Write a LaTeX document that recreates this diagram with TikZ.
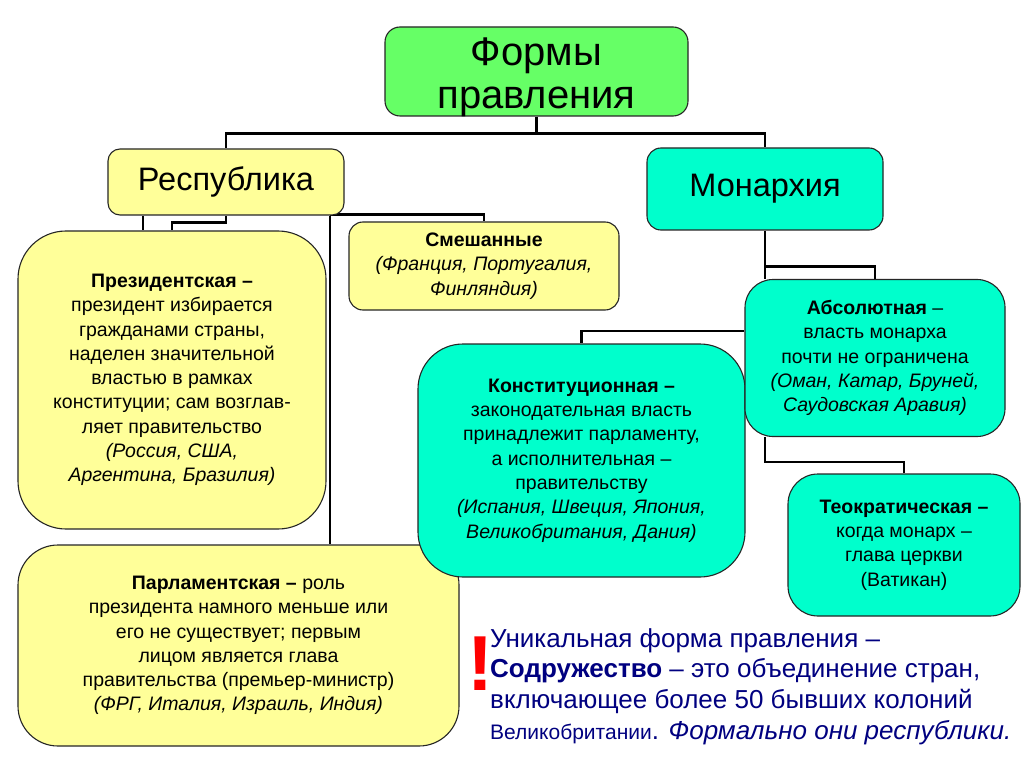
\documentclass[tikz,border=0pt]{standalone}
\usepackage{fontspec}
\setmainfont{Liberation Sans}
\usetikzlibrary{calc}
\definecolor{grn}{HTML}{66FF66}
\definecolor{yel}{HTML}{FFFF99}
\definecolor{aq}{HTML}{00FFCC}
\definecolor{nav}{HTML}{000080}
\pgfdeclarelayer{bg}
\pgfdeclarelayer{paper}
\pgfsetlayers{paper,bg,main}
\begin{document}
\begin{tikzpicture}[x=1pt,y=-1pt,
 box/.style={draw=black!85, line width=1.1pt, inner sep=0pt, align=center},
 conn/.style={draw=black, line width=2.6pt},
 body/.style={font=\fontsize{19.5}{24.3}\selectfont},
 big/.style={font=\fontsize{32.5}{36}\selectfont},
]
\begin{pgfonlayer}{paper}
\fill[white] (0,0) rectangle (1024,767);
\end{pgfonlayer}
\useasboundingbox (0,0) rectangle (1024,767);
% boxes
\node[box, fill=grn, minimum width=303pt, minimum height=89pt, rounded corners=15pt] (form) at (536.5,71.5) {};
\node[align=center, inner sep=0pt, font=\fontsize{40}{43}\selectfont] (formtext) at (536.5,77) {Формы\\правления};
\node[box, fill=yel, minimum width=236pt, minimum height=66pt, rounded corners=12pt, big] (rep) at (226,182) {Республика};
\node[box, fill=aq, minimum width=236pt, minimum height=82pt, rounded corners=14pt, big] (mon) at (765,189) {Монархия};
\node[box, fill=yel, minimum width=308pt, minimum height=298pt, rounded corners=48pt, body] (pres) at (172,380) {\textbf{Президентская –}\\президент избирается\\гражданами страны,\\наделен значительной\\властью в рамках\\конституции; сам возглав-\\ляет правительство\\\textit{(Россия, США,}\\\textit{Аргентина, Бразилия)}};
\node[box, fill=yel, minimum width=270pt, minimum height=88pt, rounded corners=14pt, body] (mix) at (484,266) {\textbf{Смешанные}\\\textit{(Франция, Португалия,}\\\textit{Финляндия)}};
\node[box, fill=yel, minimum width=441pt, minimum height=201pt, rounded corners=40pt, body] (parl) at (238.5,645.5) {\textbf{Парламентская –} роль\\президента намного меньше или\\его не существует; первым\\лицом является глава\\правительства (премьер-министр)\\\textit{(ФРГ, Италия, Израиль, Индия)}};
\node[box, fill=aq, minimum width=327pt, minimum height=233pt, rounded corners=45pt, body] (const) at (581.5,460.5) {\textbf{Конституционная –}\\законодательная власть\\принадлежит парламенту,\\а исполнительная –\\правительству\\\textit{(Испания, Швеция, Япония,}\\\textit{Великобритания, Дания)}};
\node[box, fill=aq, minimum width=260pt, minimum height=157pt, rounded corners=28pt, body] (abs) at (875,358) {\textbf{Абсолютная} –\\власть монарха\\почти не ограничена\\\textit{(Оман, Катар, Бруней,}\\\textit{Саудовская Аравия)}};
\node[box, fill=aq, minimum width=232pt, minimum height=142pt, rounded corners=30pt, body] (teo) at (904,545) {\textbf{Теократическая –}\\когда монарх –\\глава церкви\\(Ватикан)};
% note
\node[anchor=base, text=red, font=\fontsize{78}{80}\selectfont\bfseries, inner sep=0pt] (excl) at (480,690) {\makebox[12pt][c]{!}};
\node[anchor=north west, align=left, text=nav, inner sep=0pt, font=\fontsize{26}{30.7}\selectfont] (note) at (490,628) {Уникальная форма правления –\\\textbf{Содружество} – это объединение стран,\\включающее более 50 бывших колоний\\{\fontsize{21}{24}\selectfont Великобритании}. \textit{Формально они республики.}};
% connectors
\begin{pgfonlayer}{bg}
\draw[conn] (form.south) -- ++(0,17) -| (rep.north);
\draw[conn] (form.south) -- ++(0,17) -| (mon.north);
\draw[conn] (rep.south -| 143,0) -- (pres.north -| 143,0);
\draw[conn] (rep.south) -- ++(0,7) -| (pres.north -| 172,0);
\draw[conn] (rep.south -| 330,0) -- (parl.north -| 330,0);
\draw[conn] ($(rep.south -| 330,0)+(0,-1)$) -| (mix.north);
\draw[conn] (mon.south) -- (abs.north -| mon.south);
\draw[conn] (mon.south) ++(0,36) -| (abs.north);
\draw[conn] (abs.west |- 0,331) -| (const.north);
\draw[conn] (abs.south -| mon.south) -- ++(0,25) -| (teo.north);
\end{pgfonlayer}
\end{tikzpicture}
\end{document}
